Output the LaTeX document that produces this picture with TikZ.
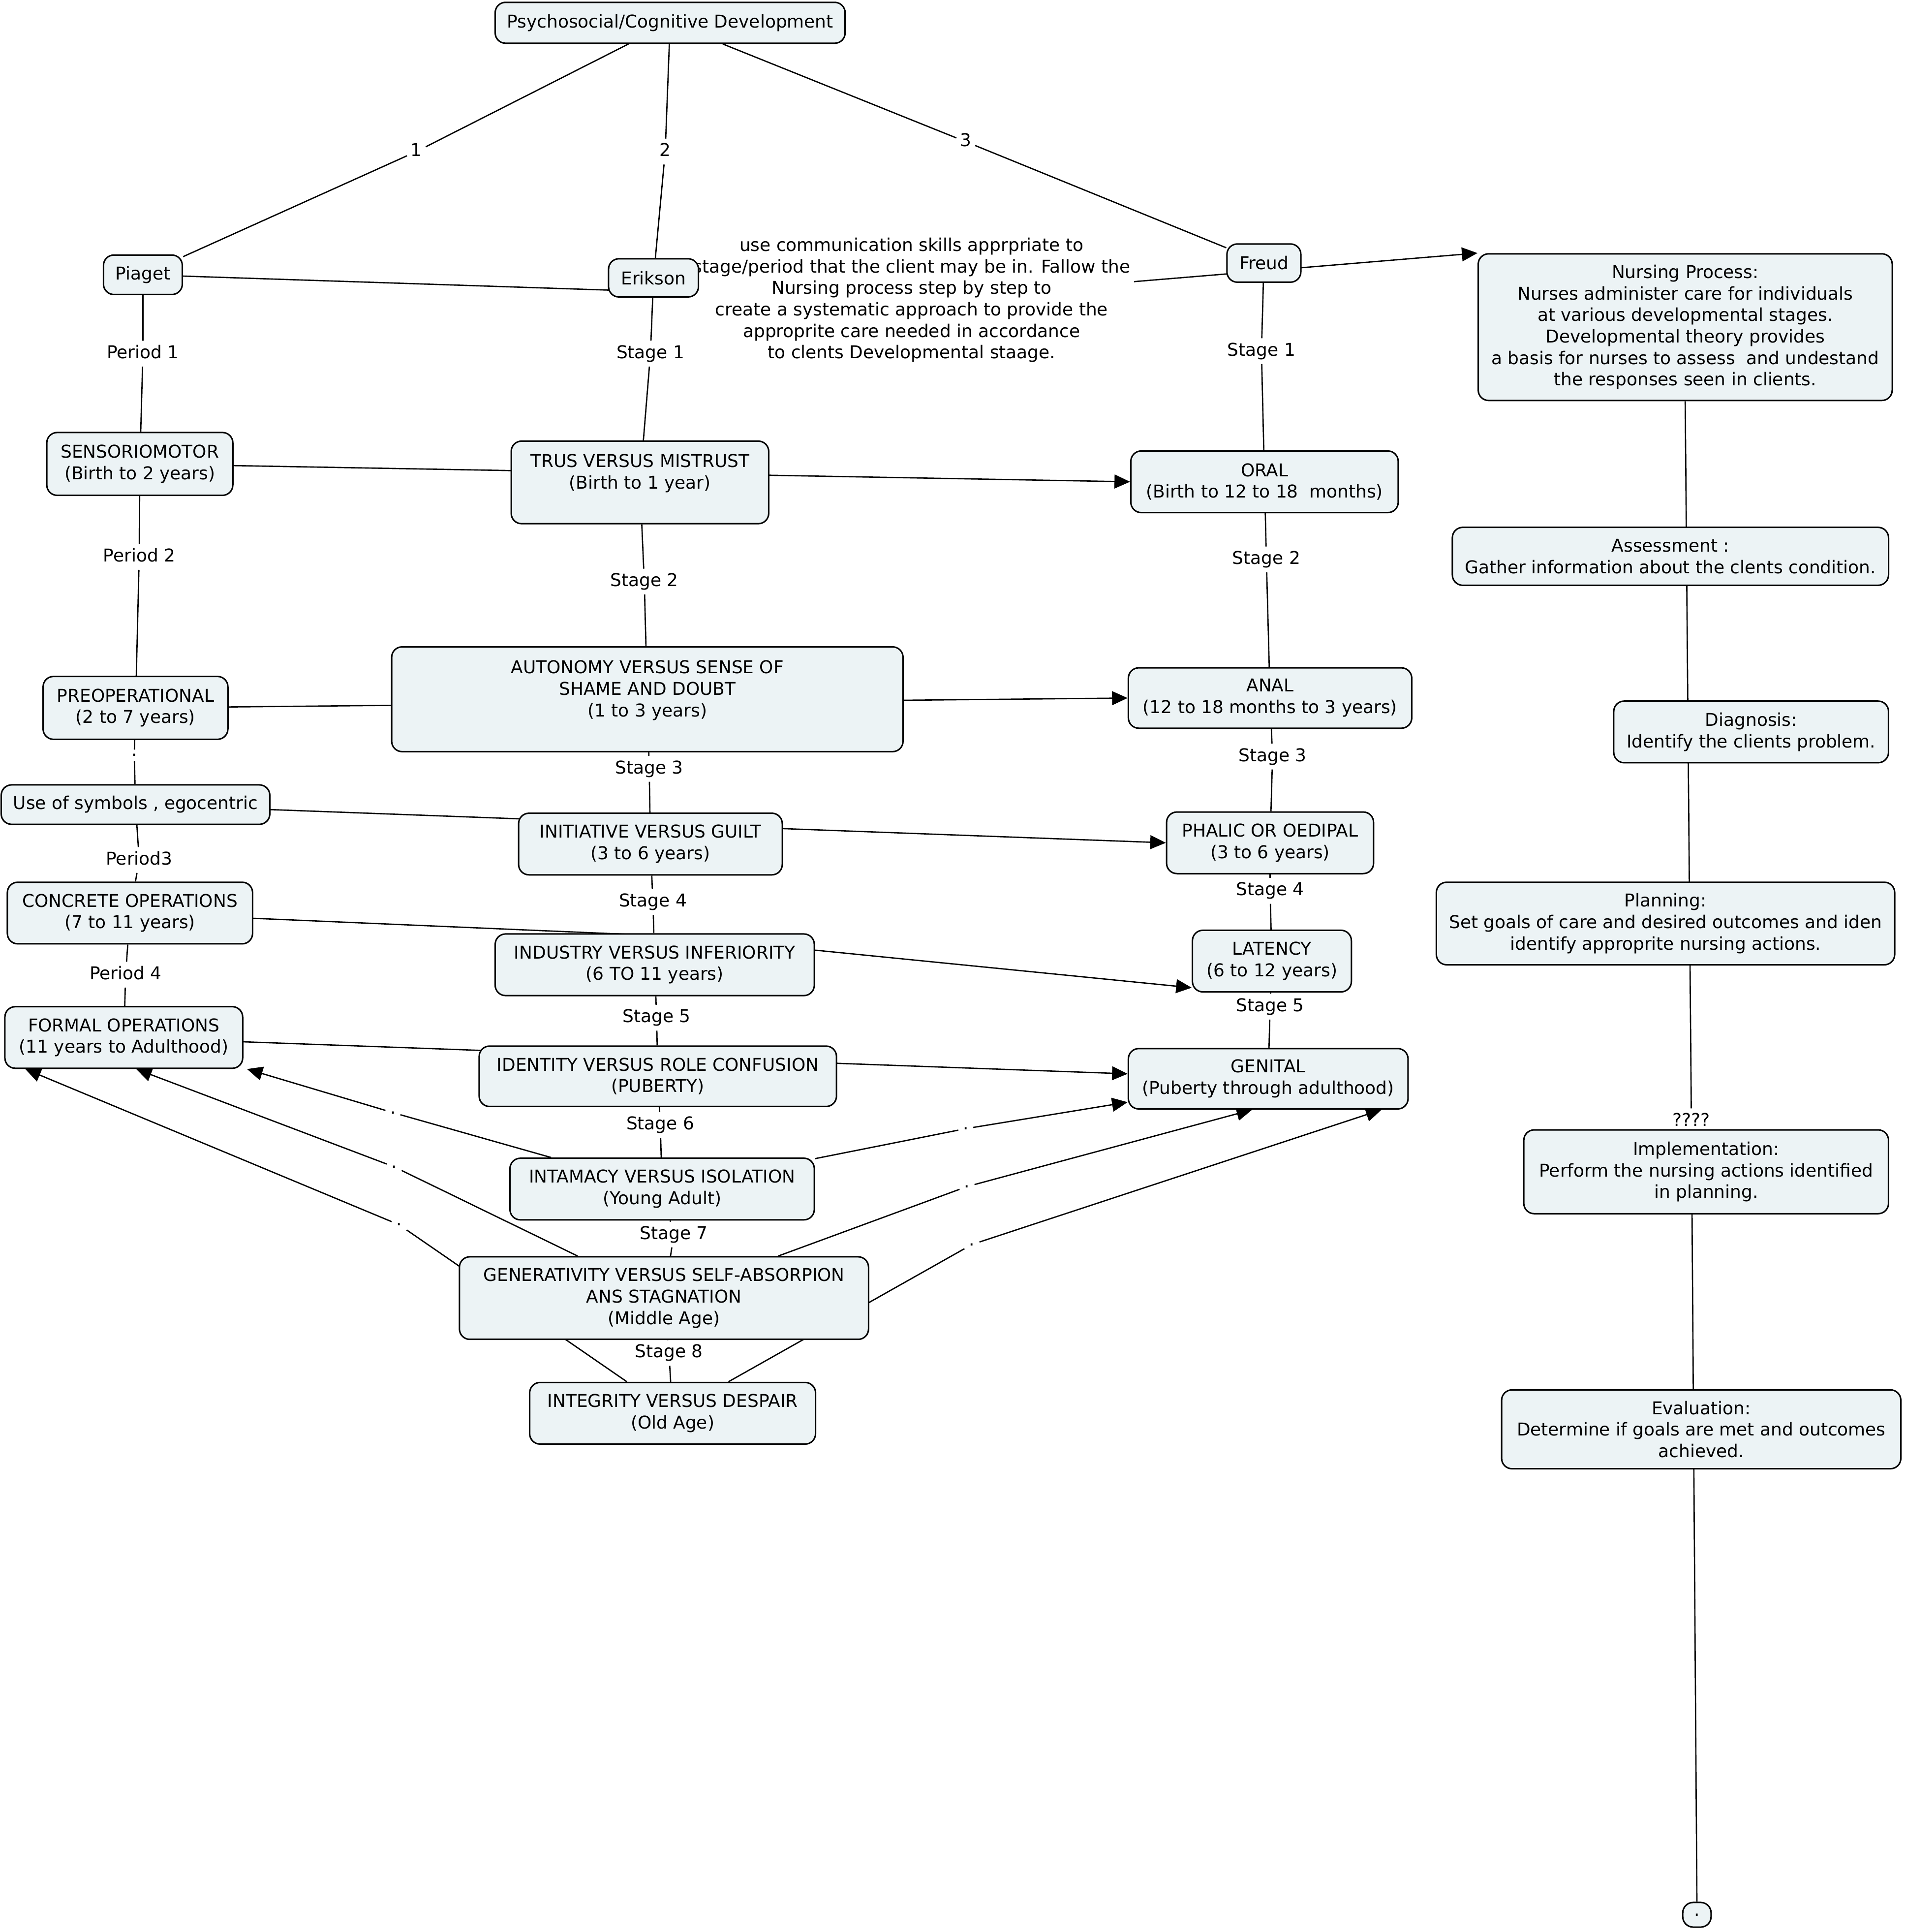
\documentclass[tikz,border=0pt]{standalone}
\usepackage{fontspec}
\setmainfont{DejaVu Sans}
\usetikzlibrary{arrows.meta,backgrounds,calc}

\definecolor{conceptColor}{RGB}{236,243,245}

\tikzset{
  every node/.style={font=\fontsize{10.2}{12.4}\selectfont},
  concept/.style={draw, line width=0.85pt, fill=conceptColor, rounded corners=6pt,
    align=center, inner sep=1pt},
  phrase/.style={inner xsep=2pt, inner ysep=2pt, text height=8pt, text depth=2.5pt},
  dotphrase/.style={inner sep=2.5pt, text height=1.2pt, text depth=0pt},
  notetext/.style={align=center, inner sep=2pt},
  link/.style={line width=0.75pt},
  arrowlink/.style={link, -{Triangle[length=9pt,width=8pt]}}
}

\begin{document}
\begin{tikzpicture}[x=0.025cm,y=-0.025cm]
  \useasboundingbox (0,0) rectangle (1547,1568);
  % Root and theorists
  \node[concept, minimum width=7.1cm, minimum height=0.83cm] (top) at (544,18.5) {Psychosocial/Cognitive Development};
  \node[concept, minimum width=1.6cm, minimum height=0.8cm] (piaget) at (116,223) {Piaget};
  \node[notetext] (note) at (740,243.5) {use communication skills apprpriate to\\stage/period that the client may be in. Fallow the\\Nursing process step by step to\\create a systematic approach to provide the\\approprite care needed in accordance\\to clents Developmental staage.};
  \node[concept, minimum width=1.825cm, minimum height=0.775cm] (erikson) at (530.5,225.5) {Erikson};
  \node[concept, minimum width=1.5cm, minimum height=0.775cm] (freud) at (1026,213.5) {Freud};
  % Piaget periods
  \node[concept, minimum width=3.775cm, minimum height=1.275cm] (senso) at (113.5,376.5) {SENSORIOMOTOR\\(Birth to 2 years)};
  \node[concept, minimum width=3.75cm, minimum height=1.275cm] (preop) at (110,574.5) {PREOPERATIONAL\\(2 to 7 years)};
  \node[concept, minimum width=5.45cm, minimum height=0.8cm] (usesym) at (110,653) {Use of symbols , egocentric};
  \node[concept, minimum width=4.975cm, minimum height=1.25cm] (concrete) at (105.5,741) {CONCRETE OPERATIONS\\(7 to 11 years)};
  \node[concept, minimum width=4.825cm, minimum height=1.25cm] (formal) at (100.5,842) {FORMAL OPERATIONS\\(11 years to Adulthood)};
  % Erikson stages
  \node[concept, minimum width=5.225cm, minimum height=1.675cm] (trus) at (519.5,391.5) {TRUS VERSUS MISTRUST\\(Birth to 1 year)\\\mbox{}};
  \node[concept, minimum width=10.375cm, minimum height=2.125cm] (auto) at (525.5,567.5) {AUTONOMY VERSUS SENSE OF\\SHAME AND DOUBT\\(1 to 3 years)\\\mbox{}};
  \node[concept, minimum width=5.35cm, minimum height=1.25cm] (init) at (528,685) {INITIATIVE VERSUS GUILT\\(3 to 6 years)};
  \node[concept, minimum width=6.475cm, minimum height=1.25cm] (industry) at (531.5,783) {INDUSTRY VERSUS INFERIORITY\\(6 TO 11 years)};
  \node[concept, minimum width=7.25cm, minimum height=1.225cm] (identity) at (534,873.5) {IDENTITY VERSUS ROLE CONFUSION\\(PUBERTY)};
  \node[concept, minimum width=6.175cm, minimum height=1.25cm] (intimacy) at (537.5,965) {INTAMACY VERSUS ISOLATION\\(Young Adult)};
  \node[concept, minimum width=8.3cm, minimum height=1.675cm] (gen) at (539,1053.5) {GENERATIVITY VERSUS SELF-ABSORPION\\ANS STAGNATION\\(Middle Age)};
  \node[concept, minimum width=5.8cm, minimum height=1.25cm] (integrity) at (546,1147) {INTEGRITY VERSUS DESPAIR\\(Old Age)};
  % Freud stages
  \node[concept, minimum width=5.425cm, minimum height=1.25cm] (oral) at (1026.5,391) {ORAL\\(Birth to 12 to 18\ \ months)};
  \node[concept, minimum width=5.75cm, minimum height=1.225cm] (anal) at (1031,566.5) {ANAL\\(12 to 18 months to 3 years)};
  \node[concept, minimum width=4.2cm, minimum height=1.25cm] (phalic) at (1031,684) {PHALIC OR OEDIPAL\\(3 to 6 years)};
  \node[concept, minimum width=3.225cm, minimum height=1.25cm] (latency) at (1032.5,780) {LATENCY\\(6 to 12 years)};
  \node[concept, minimum width=5.675cm, minimum height=1.225cm] (genital) at (1029.5,875.5) {GENITAL\\(Puberty through adulthood)};
  % Nursing process
  \node[concept, minimum width=8.4cm, minimum height=2.975cm] (nurse) at (1368,265.5) {Nursing Process:\\Nurses administer care for individuals\\at various developmental stages.\\Developmental theory provides\\a basis for nurses to assess\ \ and undestand\\the responses seen in clients.};
  \node[concept, minimum width=8.85cm, minimum height=1.175cm] (assess) at (1356,451.5) {Assessment :\\Gather information about the clents condition.};
  \node[concept, minimum width=5.575cm, minimum height=1.25cm] (diag) at (1421.5,594) {Diagnosis:\\Identify the clients problem.};
  \node[concept, minimum width=9.3cm, minimum height=1.675cm] (planning) at (1352,749.5) {Planning:\\Set goals of care and desired outcomes and iden\\identify approprite nursing actions.};
  \node[concept, minimum width=7.4cm, minimum height=1.7cm] (impl) at (1385,951) {Implementation:\\Perform the nursing actions identified\\in planning.};
  \node[concept, minimum width=8.1cm, minimum height=1.6cm] (eval) at (1381,1160) {Evaluation:\\Determine if goals are met and outcomes\\achieved.};
  \node[concept, minimum width=0.575cm, minimum height=0.5cm] (dotend) at (1377.5,1554) {.};
  % Linking phrases
  \node[phrase] (l1) at (338,123) {1};
  \node[phrase] (l2) at (540,123) {2};
  \node[phrase] (l3) at (784,115) {3};
  \node[phrase] (pp1) at (116,287) {Period 1};
  \node[phrase] (pp2) at (113,452) {Period 2};
  \node[dotphrase] (ppd) at (109,613) {.};
  \node[phrase] (pp3) at (113,698) {Period3};
  \node[phrase] (pp4) at (102,791) {Period 4};
  \node[phrase] (es1) at (528,287) {Stage 1};
  \node[phrase] (es2) at (523,472) {Stage 2};
  \node[phrase] (es3) at (527,624) {Stage 3};
  \node[phrase] (es4) at (530,732) {Stage 4};
  \node[phrase] (es5) at (533,826) {Stage 5};
  \node[phrase] (es6) at (536,913) {Stage 6};
  \node[phrase] (es7) at (547,1002) {Stage 7};
  \node[phrase] (es8) at (543,1098) {Stage 8};
  \node[phrase] (fs1) at (1024,285) {Stage 1};
  \node[phrase] (fs2) at (1028,454) {Stage 2};
  \node[phrase] (fs3) at (1033,614) {Stage 3};
  \node[phrase] (fs4) at (1031,723) {Stage 4};
  \node[phrase] (fs5) at (1031,817) {Stage 5};
  \node[phrase] (qq) at (1373,910) {????};
  \node[dotphrase] (da) at (319,903) {.};
  \node[dotphrase] (db) at (320,947) {.};
  \node[dotphrase] (dc) at (324,994) {.};
  \node[dotphrase] (dd) at (784,916) {.};
  \node[dotphrase] (de) at (785,963) {.};
  \node[dotphrase] (df) at (789,1010) {.};
  % hidden joints behind the Erikson boxes
  \coordinate (h1) at (519.5,383.8);
  \coordinate (h2) at (525.5,570.4);
  \coordinate (h3) at (528,668.5);
  \coordinate (h4) at (550,760);
  \coordinate (h5) at (534,857.7);

  \begin{pgfonlayer}{background}
    % Root
    \draw[link] (top) -- (l1) -- (piaget);
    \draw[link] (top) -- (l2) -- (erikson);
    \draw[link] (top) -- (l3) -- (freud);
    \draw[link] (piaget) -- (note);
    \draw[arrowlink] (note) -- (nurse.north west);
    % Piaget column
    \draw[link] (piaget) -- (pp1) -- (senso);
    \draw[link] (senso) -- (pp2) -- (preop);
    \draw[link] (preop) -- (ppd) -- (usesym);
    \draw[link] (usesym) -- (pp3) -- (concrete);
    \draw[link] (concrete) -- (pp4) -- (formal);
    % Erikson column
    \draw[link] (erikson) -- (es1) -- (trus);
    \draw[link] (trus) -- (es2) -- (auto);
    \draw[link] (auto) -- (es3) -- (init);
    \draw[link] (init) -- (es4) -- (industry);
    \draw[link] (industry) -- (es5) -- (identity);
    \draw[link] (identity) -- (es6) -- (intimacy);
    \draw[link] (intimacy) -- (es7) -- (gen);
    \draw[link] (gen) -- (es8) -- (integrity);
    % Freud column
    \draw[link] (freud) -- (fs1) -- (oral);
    \draw[link] (oral) -- (fs2) -- (anal);
    \draw[link] (anal) -- (fs3) -- (phalic);
    \draw[link] (phalic) -- (fs4) -- (latency);
    \draw[link] (latency) -- (fs5) -- (genital);
    % Rows
    \draw[arrowlink] (senso) -- (h1) -- (oral.west);
    \draw[arrowlink] (preop) -- (h2) -- (anal.west);
    \draw[arrowlink] (usesym) -- (h3) -- (phalic.west);
    \draw[arrowlink] (concrete) -- (h4) -- ($(latency.south west)+(0,-4)$);
    \draw[arrowlink] (formal) -- (h5) -- ($(genital.west)+(0,-4)$);
    % Late stages back to formal operations and genital
    \draw[arrowlink] (intimacy) -- (da) -- ($(formal.south)+(100,0)$);
    \draw[arrowlink] (gen) -- (db) -- ($(formal.south)+(10,0)$);
    \draw[arrowlink] (integrity) -- (dc) -- ($(formal.south)+(-80,0)$);
    \draw[arrowlink] (intimacy) -- (dd) -- ($(genital.west)+(0,19)$);
    \draw[arrowlink] (gen) -- (de) -- ($(genital.south)+(-13,0)$);
    \draw[arrowlink] (integrity) -- (df) -- ($(genital.south)+(92,0)$);
    % Nursing process spine
    \draw[link] (nurse.south) -- (qq) -- (dotend.north);
  \end{pgfonlayer}
\end{tikzpicture}
\end{document}
